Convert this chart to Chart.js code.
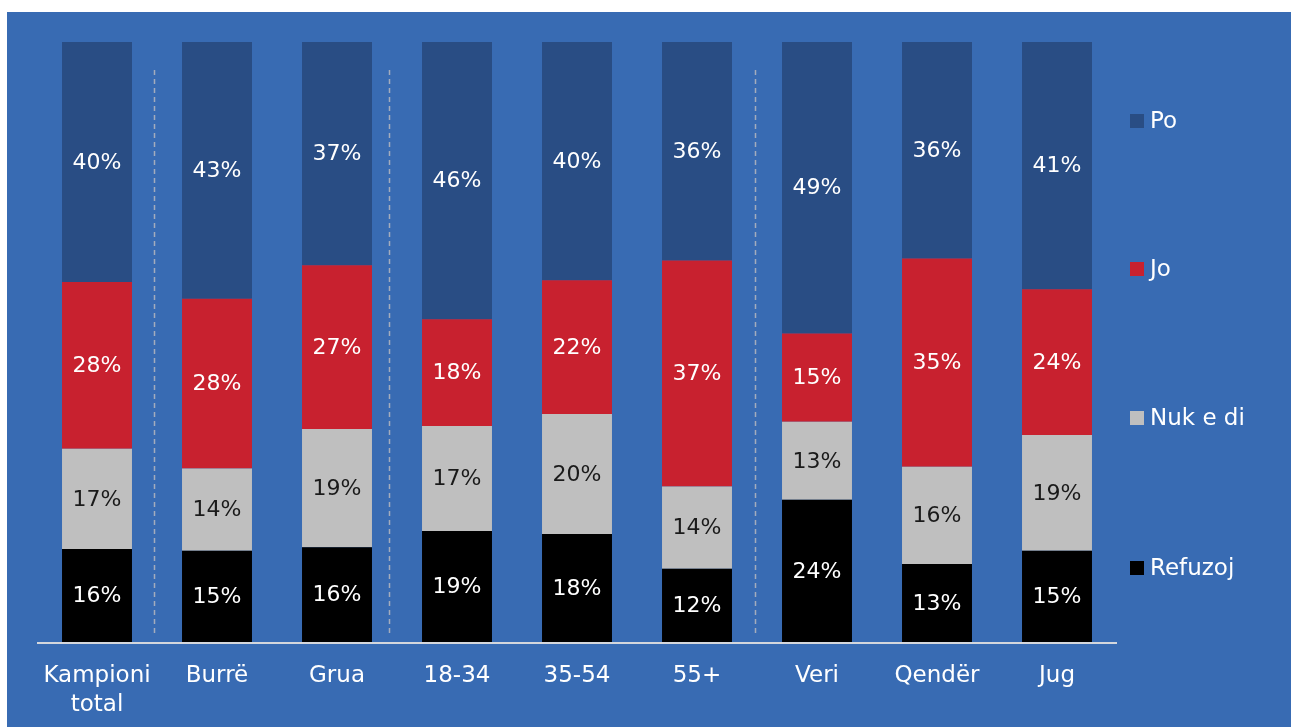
<!DOCTYPE html>
<html>
<head>
<meta charset="utf-8">
<script src="https://cdn.jsdelivr.net/npm/chart.js@4.4.1/dist/chart.umd.min.js"></script>
<style>
  html, body { margin: 0; padding: 0; background: #fff; }
  #wrap { position: absolute; left: 7px; top: 12px; width: 1284px; height: 715px; background: #386bb3; }
</style>
</head>
<body>
<div id="wrap"><canvas id="c"></canvas></div>
<script>
// categories
const cats = [['Kampioni', 'total'], 'Burrë', 'Grua', '18-34', '35-54', '55+', 'Veri', 'Qendër', 'Jug'];

// bar heights (share of the bar)
const po      = [40.0, 42.8, 37.2, 46.2, 39.7, 36.5, 48.7, 36.2, 41.2];
const jo      = [27.8, 28.3, 27.3, 17.8, 22.3, 37.7, 14.7, 34.7, 24.3];
const nuk     = [16.7, 13.7, 19.7, 17.5, 20.0, 13.7, 13.0, 16.2, 19.3];
const refuzoj = [15.5, 15.2, 15.8, 18.5, 18.0, 12.2, 23.7, 13.0, 15.2];

// printed labels
const poLbl      = [40, 43, 37, 46, 40, 36, 49, 36, 41];
const joLbl      = [28, 28, 27, 18, 22, 37, 15, 35, 24];
const nukLbl     = [17, 14, 19, 17, 20, 14, 13, 16, 19];
const refuzojLbl = [16, 15, 16, 19, 18, 12, 24, 13, 15];

// dashed group separators, in category units
const sepPos = [0.475, 2.43, 5.48];

const FONT = "'DejaVu Sans', sans-serif";

const barLabels = {
  id: 'barLabels',
  afterDatasetsDraw(chart) {
    const ctx = chart.ctx;
    ctx.save();
    ctx.font = '22px ' + FONT;
    ctx.textAlign = 'center';
    ctx.textBaseline = 'middle';
    chart.data.datasets.forEach((ds, di) => {
      chart.getDatasetMeta(di).data.forEach((bar, i) => {
        const mid = (bar.y + bar.base) / 2;
        ctx.fillStyle = ds.lblColor;
        ctx.fillText(ds.lbl[i] + '%', bar.x, mid + 1);
      });
    });
    ctx.restore();
  }
};

const decor = {
  id: 'decor',
  beforeDatasetsDraw(chart) {
    const ctx = chart.ctx;
    const x = chart.scales.x;
    const area = chart.chartArea;
    ctx.save();
    ctx.strokeStyle = '#a3acbd';
    ctx.lineWidth = 1.5;
    ctx.setLineDash([5, 4]);
    sepPos.forEach(p => {
      const i = Math.floor(p);
      const px = x.getPixelForValue(i) + (x.getPixelForValue(i + 1) - x.getPixelForValue(i)) * (p - i);
      ctx.beginPath();
      ctx.moveTo(Math.round(px) + 0.5, area.top + 28);
      ctx.lineTo(Math.round(px) + 0.5, area.bottom - 9);
      ctx.stroke();
    });
    ctx.restore();
  },
  afterDatasetsDraw(chart) {
    const ctx = chart.ctx;
    const x = chart.scales.x;
    const area = chart.chartArea;
    ctx.save();
    // axis line
    ctx.strokeStyle = '#d4d7dd';
    ctx.lineWidth = 2;
    ctx.beginPath();
    ctx.moveTo(area.left, area.bottom + 1);
    ctx.lineTo(area.right, area.bottom + 1);
    ctx.stroke();
    // category labels
    ctx.fillStyle = '#ffffff';
    ctx.font = '23px ' + FONT;
    ctx.textAlign = 'center';
    ctx.textBaseline = 'middle';
    cats.forEach((c, i) => {
      const lines = Array.isArray(c) ? c : [c];
      lines.forEach((t, k) => ctx.fillText(t, x.getPixelForValue(i), area.bottom + 34 + k * 29));
    });
    // legend
    const items = chart.data.datasets.slice().reverse();
    const ys = [109, 257, 406, 556];
    ctx.textAlign = 'left';
    items.forEach((ds, k) => {
      ctx.fillStyle = ds.backgroundColor;
      ctx.fillRect(area.right + 13, ys[k] - 7, 14, 14);
      ctx.fillStyle = '#ffffff';
      ctx.fillText(ds.label, area.right + 33, ys[k] + 1);
    });
    ctx.restore();
  }
};

new Chart(document.getElementById('c'), {
  type: 'bar',
  data: {
    labels: cats,
    datasets: [
      { label: 'Refuzoj', data: refuzoj, lbl: refuzojLbl, lblColor: '#ffffff', backgroundColor: '#000000' },
      { label: 'Nuk e di', data: nuk, lbl: nukLbl, lblColor: '#1a1a1a', backgroundColor: '#bfbfbf' },
      { label: 'Jo', data: jo, lbl: joLbl, lblColor: '#ffffff', backgroundColor: '#c8212f' },
      { label: 'Po', data: po, lbl: poLbl, lblColor: '#ffffff', backgroundColor: '#294d84' }
    ]
  },
  options: {
    responsive: true,
    maintainAspectRatio: false,
    animation: false,
    layout: { padding: { left: 30, right: 174, top: 30, bottom: 85 } },
    datasets: { bar: { categoryPercentage: 1, barPercentage: 0.583, borderWidth: 0 } },
    scales: {
      x: { stacked: true, display: false },
      y: { stacked: true, display: false, min: 0, max: 100 }
    },
    plugins: { legend: { display: false }, tooltip: { enabled: false } }
  },
  plugins: [decor, barLabels]
});
</script>
</body>
</html>
